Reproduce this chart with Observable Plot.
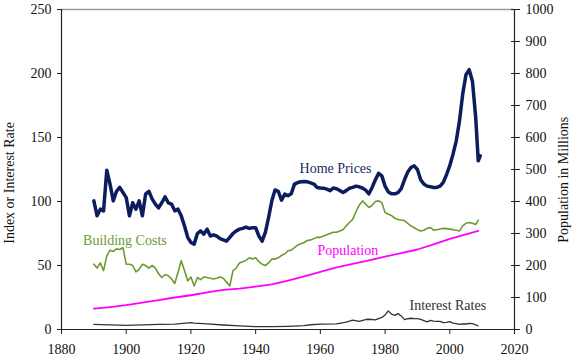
<!DOCTYPE html>
<html>
<head>
<meta charset="utf-8">
<script src="https://cdn.jsdelivr.net/npm/d3@7"></script>
<script src="https://cdn.jsdelivr.net/npm/@observablehq/plot@0.6"></script>
<style>
  html, body { margin: 0; padding: 0; background: #fff; }
  #chart { width: 580px; height: 356px; }
</style>
</head>
<body>
<div id="chart"></div>
<script>
// ---- Data ----
const homeYears = [...d3.range(1890, 2009), 2008.8, 2009.4];
const homePrices = [
  100.5, 88.8, 94, 92.7, 124.5, 113.6, 100.5, 108, 111, 107,
  103, 88.8, 99, 94, 100.5, 88.8, 105.8, 108, 102, 98,
  95, 99, 103.6, 99, 98, 92.7, 94, 88.8, 81, 72,
  68, 66.7, 75, 77, 74.5, 78.4, 73, 74, 73, 71,
  70, 69, 72, 75, 77, 78.4, 79, 80, 79, 79.5,
  79.5, 73, 69, 75.8, 87.5, 100.5, 109, 108, 101, 105.8,
  104.5, 106, 113.6, 114.8, 115.4, 115.6, 115.4, 114.5, 113.6, 111,
  110.5, 110.4, 109.7, 108.5, 110.5, 110, 108.5, 107, 108.5, 110.4,
  111, 112, 111.5, 110.5, 108.9, 106, 111, 117, 122, 120,
  112, 107.5, 106, 106, 107, 110, 117, 123, 126.5, 127.9,
  125, 117, 113.6, 112, 111.5, 111, 111, 112, 115, 121,
  128, 137, 147.4, 163, 184, 199, 203, 194, 166, 131.8, 135.7
];

const costYears = [...d3.range(1890, 2009), 2008.8];
const buildingCosts = [
  51, 48, 52, 46, 57.5, 62, 61, 63, 62.5, 64,
  51, 51, 50, 45, 47, 51, 50, 48, 50, 48,
  43.5, 40.6, 43, 42, 39.6, 36, 44.6, 53.7, 46, 38,
  41, 34, 40.6, 39, 41, 40.6, 40, 39.5, 40, 41,
  40, 37, 34, 46, 48, 52, 53, 54, 56, 55,
  56, 53, 51, 50, 52, 55, 55, 56, 58, 59,
  61.5, 62, 64, 66, 67, 68, 69.5, 70, 71, 72,
  72, 73, 74, 75, 76, 76, 77, 78, 81, 83.6,
  86, 92, 97, 100.5, 98, 95.3, 97, 100, 100.5, 99,
  91.4, 90, 89, 87, 86, 85.5, 85, 83, 81, 79.5,
  78, 77, 77.5, 79, 79.7, 77.6, 78, 78.5, 79, 78.8,
  78.4, 78, 77.5, 77, 81, 83, 83.6, 83, 82, 85.4
];

const popYears = [1890, 1895, 1900, 1905, 1910, 1915, 1920, 1925, 1930, 1935, 1940, 1945, 1950,
  1955, 1960, 1965, 1970, 1975, 1980, 1985, 1990, 1995, 2000, 2005, 2008.8];
const population = [65, 70, 76, 84, 92, 100, 107, 116, 124, 128, 134, 141, 153,
  166, 180, 194, 205, 216, 228, 239, 250, 266, 283, 297, 308];

const rateYears = [1890, 1895, 1900, 1905, 1910, 1915, 1920, 1921, 1925, 1930, 1935, 1940, 1945,
  1950, 1955, 1957, 1960, 1965, 1968, 1970, 1972, 1974, 1975, 1977, 1979, 1980, 1981, 1982,
  1983, 1984, 1985, 1986, 1987, 1988, 1989, 1990, 1991, 1992, 1993, 1994, 1995, 1996, 1997,
  1998, 1999, 2000, 2001, 2002, 2003, 2004, 2005, 2006, 2007, 2008, 2008.7];
const interestRates = [4, 3.6, 3.3, 3.6, 4, 4.2, 5.3, 5, 4.4, 3.5, 2.8, 2.3, 2.2,
  2.5, 3, 3.7, 4.2, 4.4, 5.8, 7.3, 6.3, 7.8, 8, 7.5, 9.4, 11.4, 14.5, 12,
  11, 12.4, 10.6, 7.7, 8.4, 8.8, 8.5, 8.5, 7.9, 7, 5.9, 7.1, 6.6, 6.4, 6.4,
  5.3, 5.6, 6.2, 5, 4.6, 4, 4.3, 4.3, 4.8, 4.6, 3.7, 2.9];

const xTicks = [1880, 1900, 1920, 1940, 1960, 1980, 2000, 2020];
const leftTicks = [0, 50, 100, 150, 200, 250];
const rightTicks = [0, 100, 200, 300, 400, 500, 600, 700, 800, 900, 1000];

// ---- Tables ----
const homeData = homeYears.map((y, i) => ({year: y, value: homePrices[i]}));
const costData = costYears.map((y, i) => ({year: y, value: buildingCosts[i]}));
const popData = popYears.map((y, i) => ({year: y, value: population[i] / 4}));
const rateData = rateYears.map((y, i) => ({year: y, value: interestRates[i]}));

const serif = "'Times New Roman', 'Liberation Serif', serif";

const chart = Plot.plot({
  width: 580,
  height: 356,
  marginLeft: 61,
  marginRight: 66,
  marginTop: 9,
  marginBottom: 27,
  style: {fontFamily: serif, fontSize: "14px", color: "#111", background: "#fff"},
  x: {domain: [1880, 2020]},
  y: {domain: [0, 250]},
  marks: [
    Plot.ruleY([250], {stroke: "#9a9a9a", strokeWidth: 1.5}),
    Plot.ruleX([1880], {stroke: "#222", strokeWidth: 1.2}),
    Plot.ruleX([2020], {stroke: "#222", strokeWidth: 1.2}),
    Plot.ruleY([0], {stroke: "#222", strokeWidth: 1.2}),
    Plot.axisX({ticks: xTicks, tickFormat: d => String(d), tickSize: 5, tickPadding: 10, label: null, fontSize: 14, stroke: "#222"}),
    Plot.axisY({anchor: "left", ticks: leftTicks, tickSize: 4, tickPadding: 6, label: null, fontSize: 14, stroke: "#222"}),
    Plot.axisY({anchor: "right", ticks: rightTicks.map(d => d / 4), tickFormat: d => String(d * 4),
      tickSize: 9, dx: -4, tickPadding: 6, label: null, fontSize: 14, stroke: "#222"}),
    Plot.line(rateData, {x: "year", y: "value", stroke: "#333333", strokeWidth: 1.3}),
    Plot.line(popData, {x: "year", y: "value", stroke: "#ff00ff", strokeWidth: 1.8}),
    Plot.line(costData, {x: "year", y: "value", stroke: "#6b9a2f", strokeWidth: 1.6}),
    Plot.line(homeData, {x: "year", y: "value", stroke: "#0c1d5e", strokeWidth: 3.5, strokeLinejoin: "round"}),
    Plot.text(["Home Prices"], {text: d => d, x: 1964.7, y: 125.5, fill: "#1a2a66", fontSize: 14}),
    Plot.text(["Building Costs"], {text: d => d, x: 1899.6, y: 69.5, fill: "#6b9a2f", fontSize: 14}),
    Plot.text(["Population"], {text: d => d, x: 1968.5, y: 61.5, fill: "#ff00ff", fontSize: 14}),
    Plot.text(["Interest Rates"], {text: d => d, x: 1999.4, y: 18.5, fill: "#333333", fontSize: 14}),
    Plot.text(["Index or Interest Rate"], {text: d => d, x: 1880, y: 114.5, dx: -52, rotate: -90, fill: "#111", fontSize: 14}),
    Plot.text(["Population in Millions"], {text: d => d, x: 2020, y: 117, dx: 49, rotate: -90, fill: "#111", fontSize: 14})
  ]
});
document.getElementById("chart").appendChild(chart);
</script>
</body>
</html>
